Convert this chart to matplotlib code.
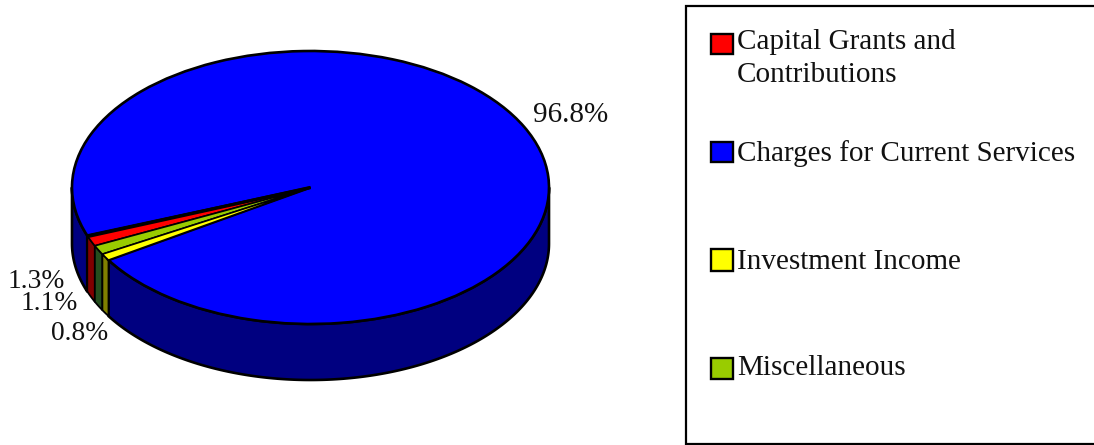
import numpy as np
import matplotlib
matplotlib.use("Agg")
import matplotlib.pyplot as plt
from matplotlib.patches import Rectangle

# Revenue sources, in legend order
categories = ["Capital Grants and\nContributions", "Charges for Current Services",
              "Investment Income", "Miscellaneous"]
shares = [1.3, 96.8, 0.8, 1.1]
top_colors = ["#FF0000", "#0000FF", "#FFFF00", "#99CC00"]
side_colors = ["#800000", "#000080", "#808000", "#244F1E"]
# Order in which the slices run counter-clockwise around the pie
slice_order = [0, 3, 2, 1]

W, H = 1094, 445
FONT = "Liberation Serif"
FS = 21
LW = 1.9

fig = plt.figure(figsize=(W / 100, H / 100), dpi=100, facecolor="white")

# Pixel-addressed overlay for the legend and labels
overlay = fig.add_axes([0, 0, 1, 1], zorder=3)
overlay.set_xlim(0, W)
overlay.set_ylim(H, 0)
overlay.axis("off")

# Pie axes: one data unit is the ellipse radius on each axis
cx, cy, rx, ry, depth_px = 310.5, 187.5, 238.5, 136.5, 56
depth = depth_px / ry
ax = fig.add_axes([(cx - rx) / W, 1 - (cy + ry + depth_px) / H,
                   2 * rx / W, (2 * ry + depth_px) / H], zorder=2)

start = 200.6
ordered = [shares[i] for i in slice_order]
wedges, _ = ax.pie(ordered, colors=[top_colors[i] for i in slice_order], startangle=start,
                   counterclock=True, radius=1, normalize=True,
                   wedgeprops=dict(edgecolor="black", linewidth=LW, zorder=4))
ax.set_aspect("auto")
ax.set_xlim(-1, 1)
ax.set_ylim(-1 - depth, 1)
ax.axis("off")
for w, v in zip(wedges, ordered):
    w.set_clip_on(False)
    # Thin slices get a finer outline so their fill stays visible
    if v < 5:
        w.set_linewidth(1.2)
        w.set_zorder(5)

# Side wall: the part of each slice on the front half of the ellipse
edges = start + np.concatenate([[0], np.cumsum(ordered)]) * 3.6
for k, i in enumerate(slice_order):
    a0, a1 = edges[k], edges[k + 1]
    for lo, hi in [(180, 360), (540, 720)]:
        t0, t1 = max(a0, lo), min(a1, hi)
        if t1 <= t0:
            continue
        t = np.radians(np.linspace(t0, t1, 240))
        xs = np.concatenate([np.cos(t), np.cos(t[::-1])])
        ys = np.concatenate([np.sin(t), np.sin(t[::-1]) - depth])
        ax.fill(xs, ys, facecolor=side_colors[i], edgecolor="black",
                linewidth=LW if shares[i] > 5 else 1.3, joinstyle="round",
                clip_on=False, zorder=2 if shares[i] > 5 else 3)

# Heavier divider along the leading edge of the first slice
ta = np.radians(start + 0.4)
ax.plot([0, np.cos(ta)], [0, np.sin(ta)], color="black", lw=2.4,
        solid_capstyle="butt", clip_on=False, zorder=6)

# Value labels
label_pos = {0: (36.5, 282), 3: (49, 304), 2: (80, 333), 1: (571, 115)}
for i, (x, y) in label_pos.items():
    overlay.text(x, y, f"{shares[i]}%", family=FONT, fontsize=FS if shares[i] > 5 else 19.8,
                 ha="center", va="center", color="#111111")

# Legend frame runs off the right side of the figure
overlay.add_patch(Rectangle((685.5, 6), 500, 437.5, facecolor="white", edgecolor="black",
                            linewidth=1.6, zorder=0))
swatch_y = [44, 152, 259.5, 368]
swatch_h = [20, 20, 22, 21]
text_y = [44, 153, 261, 367]
for name, col, sy, sh, ty in zip(categories, top_colors, swatch_y, swatch_h, text_y):
    overlay.add_patch(Rectangle((711, sy - sh / 2), 22, sh, facecolor=col, edgecolor="black",
                                linewidth=1.7, zorder=2))
    multi = "\n" in name
    overlay.text(737, ty - 15 if multi else ty + 1, name, family=FONT, fontsize=FS,
                 ha="left", va="top" if multi else "center",
                 color="#111111", linespacing=1.36, zorder=2)

fig.savefig("out.png", dpi=100, facecolor="white")
